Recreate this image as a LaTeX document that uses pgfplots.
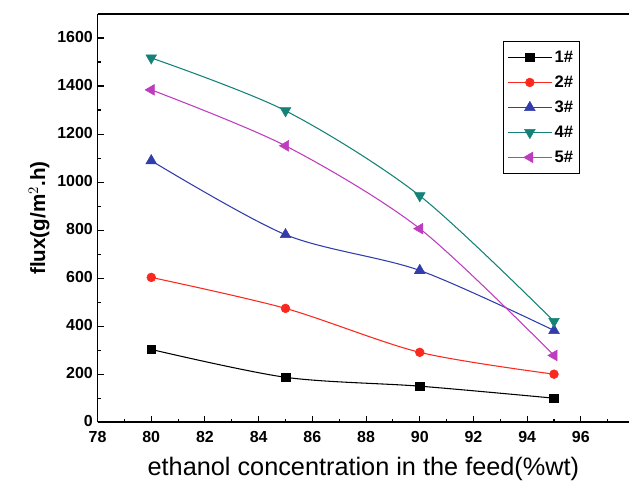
\documentclass[border=0pt]{standalone}
\usepackage{pgfplots}
\pgfplotsset{compat=1.18}
\usepackage{fontspec}
\setmainfont{Liberation Sans}
\definecolor{c1}{RGB}{0,0,0}
\definecolor{c2}{RGB}{250,40,30}
\definecolor{c3}{RGB}{50,60,170}
\definecolor{c4}{RGB}{20,130,120}
\definecolor{c5}{RGB}{190,60,190}
\begin{document}
\begin{tikzpicture}
\begin{axis}[
  scale only axis,
  width=399.5pt, height=306.75pt,
  xmin=78, xmax=97.8, ymin=0, ymax=1700,
  axis x line*=box, axis y line*=left,
  xtick={78,80,...,96}, ytick={0,200,...,1600},
  minor xtick={79,81,...,97}, minor ytick={100,300,...,1700},
  xtick pos=bottom, ytick pos=left,
  tick align=inside,
  major tick length=5pt, minor tick length=2.5pt,
  tick style={black, line width=0.8pt},
  axis line style={line width=1.2pt},
  /pgf/number format/assume math mode=true,
  /pgf/number format/1000 sep={},
  ticklabel style={font=\fontsize{12}{14}\selectfont\bfseries},
  xticklabel style={yshift=-3.5pt},
  yticklabel style={yshift=1pt},
  xlabel={ethanol concentration in the feed(\%wt)},
  xlabel style={font=\fontsize{19}{22}\selectfont, yshift=-4pt},
  ylabel={flux(g/m$^{2}$.h)},
  ylabel style={font=\fontsize{15.5}{18}\selectfont\bfseries, yshift=-1pt},
  legend style={at={(0.763,0.934)}, anchor=north west, draw=black, line width=0.8pt,
    font=\fontsize{12.5}{14}\selectfont\bfseries, row sep=4.6pt, inner xsep=3pt, inner ysep=5pt},
  legend cell align=left,
  legend image code/.code={\draw[mark repeat=2,mark phase=2,#1] plot coordinates {(0cm,0cm) (0.57cm,0cm) (1.14cm,0cm)};},
  every axis plot/.append style={line width=0.8pt, smooth, tension=0.5},
]
\addplot[c1, mark=square*, mark size=3.2pt, mark options={solid, line width=0.4pt}] coordinates {(80,303) (85,187) (90,150) (95,100)};
\addlegendentry{1\#}
\addplot[c2, mark=*, mark size=3.3pt, mark options={solid, line width=0.4pt}] coordinates {(80,603) (85,474) (90,291) (95,200)};
\addlegendentry{2\#}
\addplot[c3, mark=triangle*, mark size=4.6pt, mark options={solid, line width=0.4pt}] coordinates {(80,1089) (85,781) (90,632) (95,382)};
\addlegendentry{3\#}
\addplot[c4, mark=triangle*, mark size=4.6pt, mark options={solid, rotate=180, line width=0.4pt}] coordinates {(80,1517) (85,1297) (90,943) (95,420)};
\addlegendentry{4\#}
\addplot[c5, mark=triangle*, mark size=4.6pt, mark options={solid, rotate=90, line width=0.4pt}] coordinates {(80,1384) (85,1151) (90,806) (95,278)};
\addlegendentry{5\#}
\end{axis}
\path[use as bounding box] (-73.3pt,-44.25pt) rectangle (399.2pt,317.25pt);
\end{tikzpicture}
\end{document}
